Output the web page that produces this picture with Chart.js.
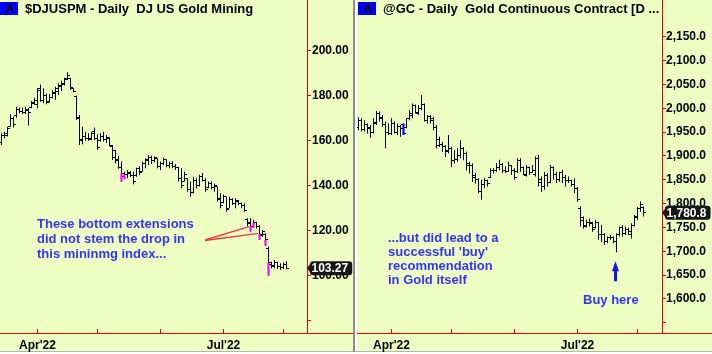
<!DOCTYPE html>
<html><head><meta charset="utf-8">
<script src="https://cdn.jsdelivr.net/npm/chart.js@4.4.1/dist/chart.umd.min.js"></script>
<style>
html,body{margin:0;padding:0;background:#fff;width:712px;height:354px;overflow:hidden;}
.panel{position:absolute;top:0;height:351px;background:#EEFEC3;}
.panel canvas{position:absolute;left:0;top:0;}
.txt{position:absolute;white-space:pre;font:bold 13px/15px "Liberation Sans",Arial,sans-serif;color:#000;z-index:2;}
.tag{position:absolute;top:2px;height:13px;width:18px;background:#0000ff;z-index:1;}
.note{color:#3333ff;}
.sep{position:absolute;background:#8c8c8c;}
</style></head>
<body>
<div class="sep" style="left:0;top:351px;width:712px;height:1px;background:#b4b4b4"></div>
<div class="panel" id="pl" style="left:0;width:353px;">
  <div class="tag" style="left:0"></div>
  <div class="txt" style="left:5px;top:1px">A</div>
  <div class="txt" style="left:25px;top:1px">$DJUSPM - Daily  DJ US Gold Mining</div>
  <div class="txt note" style="left:37px;top:216px">These bottom extensions
did not stem the drop in
this mininmg index...</div>
  <canvas id="c1" width="353" height="354"></canvas>
</div>
<div class="sep" style="left:353px;top:0;width:2px;height:352px;"></div>
<div class="panel" id="pr" style="left:357px;width:355px;">
  <div class="tag" style="left:1px"></div>
  <div class="txt" style="left:6px;top:1px">A</div>
  <div class="txt" style="left:26px;top:1px">@GC - Daily  Gold Continuous Contract [D ...</div>
  <div class="txt note" style="left:31px;top:231px;line-height:14px">...but did lead to a
successful 'buy'
recommendation
in Gold itself</div>
  <div class="txt note" style="left:226px;top:292px">Buy here</div>
  <canvas id="c2" width="355" height="354"></canvas>
</div>
<script>
// ---------- DATA ----------
const tradingDates = [
 "2022-03-16","2022-03-17","2022-03-18","2022-03-21","2022-03-22","2022-03-23","2022-03-24","2022-03-25","2022-03-28","2022-03-29","2022-03-30","2022-03-31",
 "2022-04-01","2022-04-04","2022-04-05","2022-04-06","2022-04-07","2022-04-08","2022-04-11","2022-04-12","2022-04-13","2022-04-14","2022-04-18","2022-04-19","2022-04-20","2022-04-21","2022-04-22","2022-04-25","2022-04-26","2022-04-27","2022-04-28","2022-04-29",
 "2022-05-02","2022-05-03","2022-05-04","2022-05-05","2022-05-06","2022-05-09","2022-05-10","2022-05-11","2022-05-12","2022-05-13","2022-05-16","2022-05-17","2022-05-18","2022-05-19","2022-05-20","2022-05-23","2022-05-24","2022-05-25","2022-05-26","2022-05-27","2022-05-31",
 "2022-06-01","2022-06-02","2022-06-03","2022-06-06","2022-06-07","2022-06-08","2022-06-09","2022-06-10","2022-06-13","2022-06-14","2022-06-15","2022-06-16","2022-06-17","2022-06-21","2022-06-22","2022-06-23","2022-06-24","2022-06-27","2022-06-28","2022-06-29","2022-06-30",
 "2022-07-01","2022-07-05","2022-07-06","2022-07-07","2022-07-08","2022-07-11","2022-07-12","2022-07-13","2022-07-14","2022-07-15","2022-07-18","2022-07-19","2022-07-20","2022-07-21","2022-07-22","2022-07-25","2022-07-26","2022-07-27","2022-07-28","2022-07-29",
 "2022-08-01","2022-08-02","2022-08-03"
];
const djDates = tradingDates.slice(0, 96);
const gcDates = tradingDates.slice(1, 97);
const monthTickLabels = {"2022-04":"Apr'22","2022-05":"","2022-06":"","2022-07":"Jul'22","2022-08":""};

// $DJUSPM
const djOpen = [159.0,162.5,162.5,166.5,170.0,171.0,174.0,173.0,172.5,173.5,
 174.6,176.5,176.0,183.0,178.0,180.0,177.5,179.0,181.0,182.0,
 184.0,185.0,187.5,187.5,183.0,179.5,170.0,160.5,162.0,161.0,
 161.0,164.0,161.0,160.0,162.0,160.5,161.0,157.5,155.5,151.0,
 148.0,144.0,145.0,145.5,144.5,144.5,147.5,146.5,150.0,151.0,
 152.5,151.0,152.0,148.5,150.0,151.5,149.0,150.0,148.5,148.0,
 143.0,142.0,143.0,138.5,137.0,142.5,140.0,144.0,142.5,139.0,
 141.0,139.0,139.5,134.5,132.5,135.0,130.0,134.0,132.0,133.0,
 132.0,131.0,125.0,123.5,122.0,123.5,122.0,118.0,118.5,112.0,
 105.0,104.0,106.0,104.0,103.5,105.0];
const djHigh = [163.3,164.0,166.2,171.7,170.7,175.1,174.7,174.7,175.1,174.4,
 177.6,179.1,183.3,185.0,183.3,181.0,180.6,182.5,184.0,185.5,
 186.6,188.0,190.4,188.0,183.3,180.0,171.4,166.2,164.0,163.3,
 164.0,165.8,162.8,163.3,164.0,162.5,161.5,158.1,156.0,153.3,
 150.7,146.2,147.0,146.5,146.2,148.0,148.6,150.7,152.2,153.6,
 153.4,153.0,152.2,150.7,152.5,151.7,150.7,150.9,149.6,148.4,
 147.7,146.2,143.3,141.8,144.0,143.3,144.8,145.6,143.3,141.8,
 141.8,141.0,139.6,136.6,136.1,135.1,135.1,134.4,134.4,133.6,
 132.5,132.2,125.5,125.5,124.8,124.0,122.5,120.3,118.8,112.9,
 106.2,107.0,106.2,105.5,106.0,106.4];
const djLow = [158.1,161.0,161.8,166.2,165.8,170.2,172.2,171.8,171.8,166.7,
 174.4,175.9,174.4,177.3,176.6,176.2,177.0,178.8,178.1,180.3,
 182.1,184.5,187.0,182.5,181.5,169.2,158.1,158.4,159.9,159.9,
 160.2,160.2,155.9,159.6,159.6,159.0,157.5,151.4,150.0,147.5,
 141.8,143.0,143.3,143.8,140.6,144.0,144.6,146.2,147.7,149.2,
 149.6,150.4,147.7,147.0,149.2,148.2,147.7,147.7,147.0,141.8,
 138.8,141.8,137.3,135.1,136.6,138.8,139.6,141.8,137.3,138.8,
 138.4,137.3,132.9,130.0,132.2,128.4,130.0,131.4,130.0,131.4,
 130.0,128.4,121.8,119.6,121.3,121.0,115.9,117.3,113.3,100.0,
 103.3,103.3,103.0,102.5,102.8,103.0];
const djClose = [162.5,163.0,165.5,170.0,167.0,174.0,173.0,172.5,174.0,172.5,
 177.0,178.0,182.5,178.0,180.0,177.0,179.0,181.5,183.0,184.5,
 185.5,187.0,189.0,183.5,182.0,170.5,160.0,162.0,161.0,160.5,
 163.0,161.0,157.0,162.0,160.5,161.5,158.0,152.5,151.5,148.0,
 145.5,145.0,146.0,144.5,142.0,147.5,146.0,150.0,151.5,152.5,
 151.0,152.5,148.5,150.0,151.5,149.0,150.0,148.5,148.0,143.0,
 140.0,145.0,138.5,137.0,142.5,140.0,144.0,142.5,138.5,141.0,
 139.0,140.0,134.0,131.0,135.0,129.5,134.0,132.0,133.5,132.0,
 131.0,129.0,123.0,121.8,123.6,122.0,118.5,119.5,115.9,105.8,
 104.5,106.0,104.0,103.5,105.0,103.27];
const djMarkIdx  = [40, 41, 83, 84, 86, 88, 89];
const djMarkLow  = [141.8, 142.8, 119.6, 121.3, 115.9, 113.3, 100.0];
const djMarkHigh = [145.5, 144.8, 121.8, 123.6, 118.5, 115.9, 105.8];
const djYTicks = [80, 100, 120, 140, 160, 180, 200];
const djYTickLabels = ["", "100.00", "120.00", "140.00", "160.00", "180.00", "200.00"];

// @GC
const gcOpen = [1960,1975,1955,1965,1960,1950,1968,1990,1980,1965,
 1950,1948,1968,1950,1962,1965,1960,1978,1985,2005,
 1990,2000,2008,1975,1982,1978,1960,1935,1925,1920,
 1910,1915,1890,1892,1900,1915,1905,1885,1880,1860,
 1850,1825,1840,1848,1855,1870,1870,1875,1882,1870,
 1868,1880,1870,1868,1890,1875,1860,1875,1866,1862,
 1895,1850,1835,1860,1845,1875,1862,1850,1865,1855,
 1848,1848,1840,1832,1790,1770,1752,1760,1760,1750,
 1760,1735,1735,1720,1730,1728,1720,1735,1750,1738,
 1745,1735,1755,1770,1790,1792];
const gcHigh = [1981,1979,1975,1968,1965,1979,1994,1993,1986,1972,
 1968,1979,1972,1968,1965,1968,1979,1996,2010,2008,
 2007,2028,2010,1986,1986,1982,1965,1940,1930,1923,
 1944,1919,1912,1916,1933,1919,1909,1888,1884,1864,
 1853,1850,1853,1850,1874,1874,1885,1892,1885,1878,
 1888,1881,1874,1895,1895,1878,1881,1878,1881,1899,
 1902,1857,1867,1864,1881,1878,1867,1867,1871,1860,
 1857,1850,1853,1835,1795,1773,1766,1769,1762,1766,
 1762,1755,1738,1731,1734,1731,1738,1752,1755,1752,
 1750,1759,1776,1793,1805,1794];
const gcLow = [1954,1951,1951,1947,1938,1947,1965,1972,1961,1916,
 1944,1944,1947,1944,1940,1944,1958,1975,1979,1989,
 1986,1996,1972,1968,1968,1954,1916,1919,1909,1898,
 1905,1877,1884,1888,1895,1891,1870,1863,1846,1842,
 1822,1808,1832,1836,1853,1863,1867,1870,1864,1864,
 1867,1860,1850,1864,1867,1860,1857,1860,1864,1857,
 1836,1825,1829,1836,1843,1850,1843,1846,1843,1836,
 1843,1836,1822,1804,1752,1748,1750,1752,1741,1748,
 1724,1720,1713,1717,1724,1717,1698,1731,1731,1734,
 1734,1727,1752,1766,1783,1773];
const gcClose = [1975,1955,1965,1958,1950,1970,1990,1978,1965,1950,
 1948,1968,1950,1962,1958,1947,1978,1990,2005,1992,
 2000,2008,1975,1982,1975,1960,1922,1925,1920,1912,
 1915,1890,1892,1900,1915,1905,1880,1880,1855,1850,
 1826,1840,1848,1842,1870,1870,1875,1882,1870,1868,
 1880,1870,1855,1890,1875,1862,1875,1866,1870,1895,
 1845,1835,1860,1845,1875,1862,1850,1865,1855,1848,
 1848,1840,1832,1808,1765,1755,1760,1758,1745,1760,
 1735,1736,1720,1728,1728,1720,1735,1750,1738,1745,
 1742,1755,1772,1790,1798,1780.8];
const gcMarkIdx  = [15];
const gcMarkLow  = [1944];
const gcMarkHigh = [1968];
const gcYTicks = [1550,1600,1650,1700,1750,1800,1850,1900,1950,2000,2050,2100,2150];
const gcYTickLabels = ["","1,600.0","1,650.0","1,700.0","1,750.0","1,800.0","1,850.0","1,900.0","1,950.0","2,000.0","2,050.0","2,100.0","2,150.0"];

// ---------- RENDERING ----------
const RED = '#f00000';
const FONT = '"Liberation Sans", Arial, sans-serif';

function tickImg(left){
  const c = document.createElement('canvas'); c.width = 5; c.height = 1;
  const g = c.getContext('2d'); g.fillStyle = '#000'; g.fillRect(left ? 0 : 3, 0, 2, 1);
  return c;
}
const openImg = tickImg(true), closeImg = tickImg(false);

function monthStarts(dates){
  const out = [];
  for (let i = 1; i < dates.length; i++) if (dates[i].slice(0,7) !== dates[i-1].slice(0,7)) out.push(i);
  return out;
}

function zeroPad(sc){ sc.paddingTop = 0; sc.paddingBottom = 0; sc.paddingLeft = 0; sc.paddingRight = 0; }

const extras = {
  id: 'extras',
  afterDraw(chart, args, o){
    const ctx = chart.ctx, xs = chart.scales.x, ys = chart.scales.y, a = chart.chartArea;
    ctx.save();
    ctx.strokeStyle = RED; ctx.lineWidth = 1;
    ctx.beginPath(); ctx.moveTo(a.right, Math.round(a.bottom) + 0.5); ctx.lineTo(chart.width, Math.round(a.bottom) + 0.5); ctx.stroke();
    xs.ticks.forEach(t => {
      const px = Math.floor(xs.getPixelForValue(t.value)) + 0.5;
      ctx.beginPath(); ctx.moveTo(px, a.bottom - 4); ctx.lineTo(px, a.bottom); ctx.stroke();
    });
    (o.lines || []).forEach(l => {
      ctx.strokeStyle = '#f03a3a'; ctx.lineWidth = 1.4;
      ctx.beginPath(); ctx.moveTo(l.from[0], l.from[1]);
      ctx.lineTo(xs.getPixelForValue(l.i) - 1.5, ys.getPixelForValue(l.v)); ctx.stroke();
    });
    if (o.arrow){
      const x = xs.getPixelForValue(o.arrow.i) - 1, t = ys.getPixelForValue(o.arrow.v) + 9;
      ctx.fillStyle = '#1414e6';
      ctx.beginPath(); ctx.moveTo(x, t); ctx.lineTo(x + 3.5, t + 10); ctx.lineTo(x - 3.5, t + 10); ctx.closePath(); ctx.fill();
      ctx.fillRect(x - 1.5, t + 9, 3, 11);
    }
    if (o.price){
      const y = ys.getPixelForValue(o.price.v);
      ctx.font = 'bold 12px ' + FONT;
      const tw = ctx.measureText(o.price.text).width;
      const tip = a.right, bx = tip + 3, tx = tip + 4.5, bw = tx + tw + 4 - bx, h = 14, r = 3;
      ctx.fillStyle = '#161616';
      ctx.beginPath();
      ctx.moveTo(tip, y);
      ctx.lineTo(bx, y - 4);
      ctx.lineTo(bx, y - h/2 + r); ctx.quadraticCurveTo(bx, y - h/2, bx + r, y - h/2);
      ctx.lineTo(bx + bw - r, y - h/2); ctx.quadraticCurveTo(bx + bw, y - h/2, bx + bw, y - h/2 + r);
      ctx.lineTo(bx + bw, y + h/2 - r); ctx.quadraticCurveTo(bx + bw, y + h/2, bx + bw - r, y + h/2);
      ctx.lineTo(bx + r, y + h/2); ctx.quadraticCurveTo(bx, y + h/2, bx, y + h/2 - r);
      ctx.lineTo(bx, y + 4); ctx.closePath(); ctx.fill();
      ctx.fillStyle = '#fff'; ctx.textBaseline = 'middle'; ctx.textAlign = 'left';
      ctx.fillText(o.price.text, tx, y + 0.5);
    }
    ctx.restore();
  }
};

function makeChart(id, s){
  const mIdx = monthStarts(s.dates);
  return new Chart(document.getElementById(id), {
    type: 'bar',
    data: { datasets: [
      { type:'bar', data: s.markIdx.map((i,k)=>({x:i, y:[s.markLow[k], s.markHigh[k]]})),
        backgroundColor: s.markColor, maxBarThickness: 3, grouped: false, inflateAmount: 0, borderWidth: 0 },
      { type:'line', data: s.open.map((v,i)=>({x:i, y:v})), showLine:false, pointStyle: openImg, pointRadius: 2, pointHoverRadius: 2 },
      { type:'line', data: s.close.map((v,i)=>({x:i, y:v})), showLine:false, pointStyle: closeImg, pointRadius: 2, pointHoverRadius: 2 },
      { type:'bar', data: s.high.map((h,i)=>({x:i, y:[s.low[i], h]})),
        backgroundColor: '#000', maxBarThickness: 1, grouped: false, inflateAmount: 0, borderWidth: 0 }
    ]},
    options: {
      responsive: false, animation: false, devicePixelRatio: 1, events: [],
      layout: { padding: 0, autoPadding: false },
      plugins: { legend: {display:false}, tooltip: {enabled:false}, extras: s.extras },
      scales: {
        x: { type:'linear', min: -0.5, max: s.xMax, offset: false,
          afterBuildTicks: sc => { sc.ticks = mIdx.map(v => ({value: v})); },
          afterFit: sc => { sc.height = 21; zeroPad(sc); },
          grid: { drawOnChartArea:false, drawTicks:false },
          border: { color: RED, width: 1 },
          ticks: { autoSkip:false, maxRotation:0, minRotation:0, padding: 5, color:'#000',
            font: { family: FONT, size: 12, weight: 'bold' },
            callback: v => monthTickLabels[s.dates[v].slice(0,7)] || '' } },
        y: { type:'linear', position:'right', min: s.yMin, max: s.yMax, beginAtZero:false,
          afterBuildTicks: sc => { sc.ticks = s.yTicks.map(v => ({value: v})); },
          afterFit: sc => { sc.width = s.yWidth; zeroPad(sc); },
          grid: { drawOnChartArea:false, drawTicks:true, tickLength: 4, color: RED },
          border: { color: RED, width: 1 },
          ticks: { autoSkip:false, padding: s.yPad, color:'#000',
            font: { family: FONT, size: 12, weight: 'bold' },
            callback: v => s.yTickLabels[s.yTicks.indexOf(v)] } }
      }
    },
    plugins: [extras]
  });
}

makeChart('c1', {
  dates: djDates, open: djOpen, high: djHigh, low: djLow, close: djClose,
  markIdx: djMarkIdx, markLow: djMarkLow, markHigh: djMarkHigh, markColor: '#ff00ff',
  yTicks: djYTicks, yTickLabels: djYTickLabels,
  xMax: 101.83, yMin: 74.5, yMax: 222.5, yWidth: 46, yPad: 1,
  extras: {
    price: { v: djClose[djClose.length-1], text: djClose[djClose.length-1].toFixed(2) },
    lines: [ {from:[205,240], i:83, v:121.8}, {from:[205,240.5], i:86, v:118.8} ]
  }
});

makeChart('c2', {
  dates: gcDates, open: gcOpen, high: gcHigh, low: gcLow, close: gcClose,
  markIdx: gcMarkIdx, markLow: gcMarkLow, markHigh: gcMarkHigh, markColor: '#0000ff',
  yTicks: gcYTicks, yTickLabels: gcYTickLabels,
  xMax: 101.17, yMin: 1528.7, yMax: 2227, yWidth: 50, yPad: 0,
  extras: {
    price: { v: gcClose[gcClose.length-1], text: gcClose[gcClose.length-1].toLocaleString('en-US',{minimumFractionDigits:1, maximumFractionDigits:1}) },
    arrow: { i: 86, v: Math.min(...gcLow) }
  }
});
</script>
</body></html>
